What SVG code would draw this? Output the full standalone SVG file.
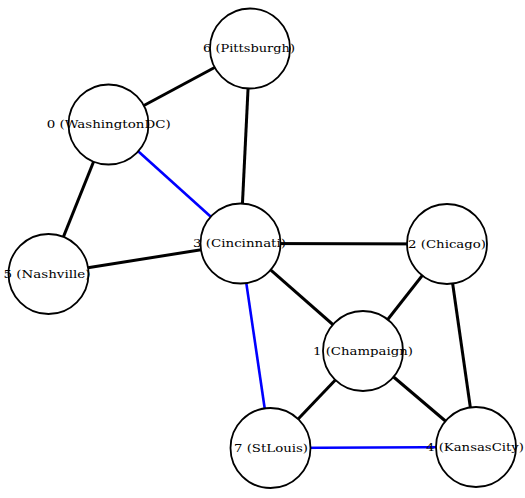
<svg xmlns="http://www.w3.org/2000/svg" width="525" height="498" viewBox="0 0 525 498">
  <style>
    .edge { stroke: #000; stroke-width: 3; fill: none; }
    .edge.tree { stroke: #0000ff; stroke-width: 2.6; }
    .node circle { fill: #fff; stroke: #000; stroke-width: 1.8; }
    .node text { font-family: "DejaVu Serif", "Liberation Serif", serif; font-size: 10.5px; fill: #000; text-anchor: middle; }
  </style>
  <rect width="525" height="498" fill="#fff"/>
  <g id="edges">
    <line class="edge" x1="108.5" y1="124.5" x2="250" y2="48.5"/>
    <line class="edge" x1="108.5" y1="124.5" x2="48.5" y2="274"/>
    <line class="edge tree" x1="108.5" y1="124.5" x2="240.5" y2="243.5"/>
    <line class="edge" x1="250" y1="48.5" x2="240.5" y2="243.5"/>
    <line class="edge" x1="240.5" y1="243.5" x2="48.5" y2="274"/>
    <line class="edge" x1="240.5" y1="243.5" x2="447" y2="244"/>
    <line class="edge" x1="240.5" y1="243.5" x2="363" y2="351"/>
    <line class="edge tree" x1="240.5" y1="243.5" x2="270.5" y2="448"/>
    <line class="edge" x1="447" y1="244" x2="363" y2="351"/>
    <line class="edge" x1="447" y1="244" x2="476" y2="447"/>
    <line class="edge" x1="363" y1="351" x2="270.5" y2="448"/>
    <line class="edge" x1="363" y1="351" x2="476" y2="447"/>
    <line class="edge tree" x1="270.5" y1="448" x2="476" y2="447"/>
  </g>
  <g id="node6" class="node">
    <circle cx="250" cy="48.5" r="40"/>
    <text x="249" y="52" textLength="92" lengthAdjust="spacingAndGlyphs">6 (Pittsburgh)</text>
  </g>
  <g id="node0" class="node">
    <circle cx="108.5" cy="124.5" r="40"/>
    <text x="108.7" y="128" textLength="124" lengthAdjust="spacingAndGlyphs">0 (WashingtonDC)</text>
  </g>
  <g id="node3" class="node">
    <circle cx="240.5" cy="243.5" r="40"/>
    <text x="239.5" y="247" textLength="93" lengthAdjust="spacingAndGlyphs">3 (Cincinnati)</text>
  </g>
  <g id="node2" class="node">
    <circle cx="447" cy="244" r="40"/>
    <text x="447" y="247.5" textLength="78" lengthAdjust="spacingAndGlyphs">2 (Chicago)</text>
  </g>
  <g id="node5" class="node">
    <circle cx="48.5" cy="274" r="40"/>
    <text x="47" y="277.5" textLength="87" lengthAdjust="spacingAndGlyphs">5 (Nashville)</text>
  </g>
  <g id="node1" class="node">
    <circle cx="363" cy="351" r="40"/>
    <text x="363" y="354.5" textLength="100" lengthAdjust="spacingAndGlyphs">1 (Champaign)</text>
  </g>
  <g id="node7" class="node">
    <circle cx="270.5" cy="448" r="40"/>
    <text x="271" y="451.5" textLength="74" lengthAdjust="spacingAndGlyphs">7 (StLouis)</text>
  </g>
  <g id="node4" class="node">
    <circle cx="476" cy="447" r="40"/>
    <text x="475" y="450.5" textLength="98" lengthAdjust="spacingAndGlyphs">4 (KansasCity)</text>
  </g>
</svg>
